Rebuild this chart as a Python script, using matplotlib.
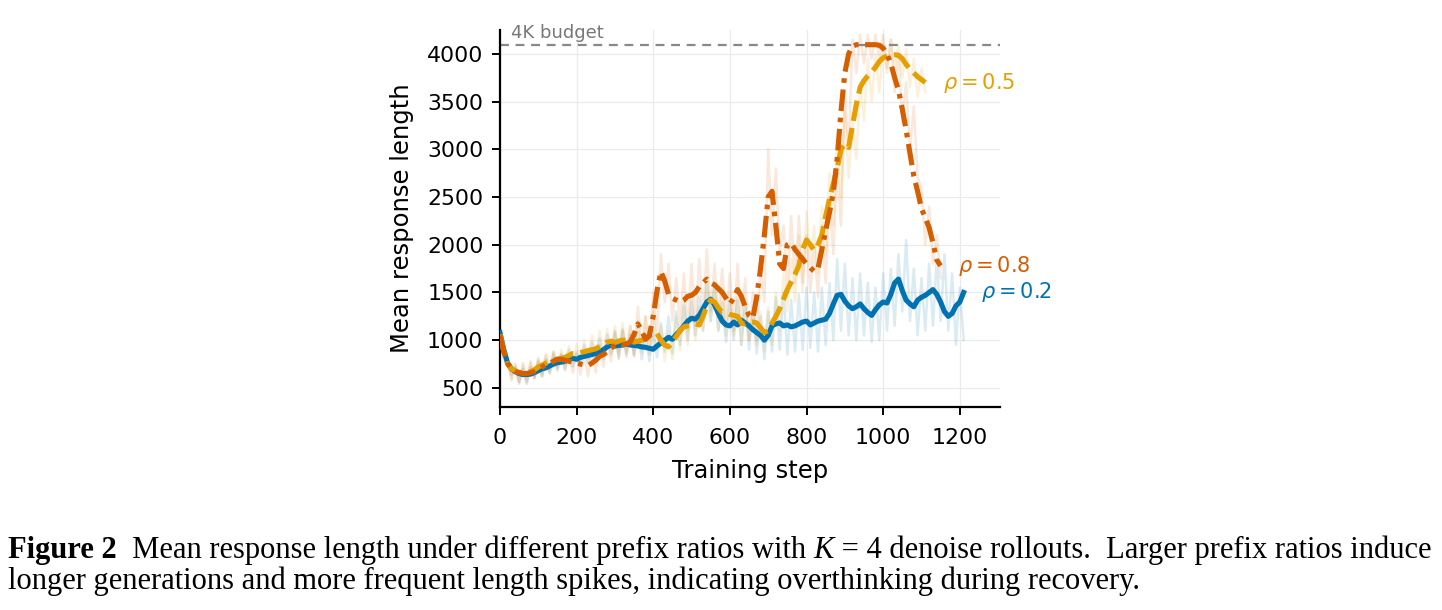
import numpy as np
import matplotlib.pyplot as plt

# smoothed curves, one value every 10 training steps
blue_smooth = [1080, 900, 760, 700, 670, 650, 640, 640, 645, 660,
               680, 700, 710, 730, 750, 765, 770, 780, 800, 810,
               800, 820, 830, 840, 850, 860, 880, 900, 930, 950,
               940, 945, 950, 960, 950, 945, 940, 930, 925, 915,
               905, 940, 970, 1000, 1030, 1010, 1060, 1100, 1150, 1200,
               1230, 1220, 1260, 1330, 1400, 1430, 1370, 1280, 1200, 1160,
               1150, 1190, 1160, 1210, 1180, 1150, 1110, 1080, 1050, 1000,
               1050, 1150, 1170, 1180, 1150, 1160, 1140, 1150, 1170, 1190,
               1200, 1160, 1180, 1200, 1210, 1220, 1280, 1380, 1470, 1480,
               1410, 1360, 1330, 1350, 1380, 1330, 1290, 1260, 1320, 1370,
               1400, 1390, 1480, 1600, 1640, 1520, 1420, 1380, 1350, 1420,
               1450, 1470, 1500, 1530, 1480, 1400, 1300, 1250, 1280, 1360,
               1400, 1500]
yellow_smooth = [1060, 880, 750, 700, 680, 660, 660, 655, 670, 690,
                 720, 740, 760, 780, 790, 800, 810, 820, 840, 860,
                 860, 870, 880, 890, 900, 910, 930, 950, 980, 990,
                 975, 990, 1000, 1000, 990, 980, 990, 1000, 1010, 1040,
                 1080, 1070, 1000, 950, 930, 980, 1040, 1100, 1140, 1150,
                 1160, 1170, 1160, 1250, 1360, 1420, 1400, 1340, 1290, 1290,
                 1270, 1260, 1250, 1180, 1170, 1190, 1190, 1180, 1130, 1080,
                 1100, 1180, 1250, 1330, 1430, 1530, 1610, 1690, 1780, 1950,
                 2050, 2000, 1940, 2000, 2100, 2300, 2480, 2640, 2800, 3000,
                 3060, 3020, 3250, 3470, 3650, 3720, 3770, 3810, 3860, 3920,
                 3960, 3975, 3985, 3990, 3985, 3950, 3890, 3840, 3800, 3760,
                 3730, 3700]
orange_smooth = [1050, 880, 760, 700, 670, 660, 650, 650, 660, 670,
                 690, 720, 740, 760, 780, 800, 800, 790, 780, 770,
                 760, 750, 740, 735, 760, 790, 830, 850, 880, 920,
                 940, 960, 950, 960, 980, 1060, 1170, 1100, 1010, 1050,
                 1250, 1520, 1720, 1620, 1480, 1440, 1420, 1400, 1420, 1460,
                 1470, 1500, 1560, 1600, 1640, 1600, 1580, 1540, 1500, 1440,
                 1380, 1440, 1530, 1460, 1350, 1260, 1230, 1450, 1750, 2100,
                 2500, 2560, 2200, 1800, 1750, 2000, 2020, 1950, 1900, 1850,
                 1800, 1760, 1720, 1750, 1950, 2150, 2340, 2550, 2900, 3400,
                 3800, 4000, 4080, 4096, 4096, 4096, 4096, 4096, 4096, 4090,
                 4060, 4000, 3900, 3750, 3620, 3420, 3200, 2960, 2720, 2560,
                 2380, 2280, 2180, 2020, 1840, 1780]

# raw (unsmoothed) lengths, also every 10 steps
blue_raw = [1100, 820, 800, 640, 720, 560, 700, 540, 720, 600,
            780, 620, 800, 650, 860, 680, 850, 700, 900, 720,
            880, 740, 950, 760, 980, 780, 1020, 800, 1060, 850,
            1080, 820, 1100, 850, 1060, 830, 1080, 800, 1040, 780,
            1100, 820, 1180, 880, 1250, 860, 1300, 950, 1380, 1000,
            1420, 1050, 1460, 1100, 1600, 1200, 1550, 1100, 1400, 980,
            1380, 1000, 1420, 950, 1380, 900, 1300, 860, 1250, 800,
            1300, 880, 1450, 900, 1500, 850, 1420, 880, 1480, 900,
            1550, 920, 1500, 880, 1550, 950, 1600, 1000, 1850, 1100,
            1800, 1050, 1650, 1000, 1700, 1050, 1600, 980, 1550, 1000,
            1700, 1100, 1750, 1150, 1900, 1300, 2050, 1200, 1750, 1050,
            1650, 1100, 1800, 1150, 1850, 1200, 1900, 1100, 1700, 950,
            1550, 1000]
yellow_raw = [1080, 820, 780, 600, 760, 560, 740, 580, 760, 620,
              820, 640, 860, 680, 880, 720, 900, 740, 940, 760,
              960, 780, 1000, 790, 1050, 820, 1100, 860, 1120, 880,
              1150, 860, 1180, 880, 1150, 840, 1200, 860, 1250, 900,
              1300, 900, 1150, 780, 1100, 800, 1250, 900, 1350, 950,
              1400, 1000, 1350, 1100, 1650, 1200, 1600, 1100, 1550, 1050,
              1500, 1050, 1450, 950, 1400, 1000, 1350, 950, 1300, 880,
              1350, 950, 1500, 1100, 1700, 1300, 1850, 1400, 2100, 1500,
              2350, 1800, 2200, 1700, 2400, 1900, 2750, 2200, 3100, 2500,
              3400, 2700, 3300, 2900, 3700, 3300, 3950, 3500, 4000, 3600,
              4100, 3800, 4150, 3850, 4100, 3750, 4050, 3650, 3950, 3550,
              3850, 3600]
orange_raw = [1050, 800, 780, 580, 740, 540, 760, 560, 780, 600,
              800, 620, 840, 660, 880, 700, 860, 680, 850, 660,
              860, 640, 850, 620, 880, 660, 950, 720, 1000, 780,
              1100, 800, 1120, 820, 1150, 850, 1350, 900, 1250, 850,
              1500, 1050, 1900, 1400, 1800, 1200, 1650, 1150, 1700, 1100,
              1800, 1150, 1850, 1250, 1950, 1300, 1800, 1250, 1750, 1200,
              1700, 1100, 1800, 1150, 1650, 1000, 1500, 1000, 1800, 1400,
              3000, 2100, 2800, 1900, 2200, 1500, 2300, 1600, 2300, 1600,
              2100, 1500, 2000, 1450, 2200, 1600, 2500, 1900, 2800, 2200,
              3600, 3000, 4150, 3800, 4200, 3900, 4200, 3950, 4200, 3950,
              4200, 3850, 4150, 3600, 4000, 3300, 3700, 3000, 3450, 2700,
              2600, 2000, 2400, 1800, 2100, 1650]

budget = 4096
step_every = 10

c_blue = '#0072B2'
c_yellow = '#E69F00'
c_orange = '#D55E00'

fig = plt.figure(figsize=(14.42, 6.10), dpi=100)
ax = fig.add_axes([0.3467, 0.3328, 0.3468, 0.618])

series = [
    (blue_raw, blue_smooth, c_blue, '-', None, r'$\rho=0.2$'),
    (yellow_raw, yellow_smooth, c_yellow, '--', (4, 1.4), r'$\rho=0.5$'),
    (orange_raw, orange_smooth, c_orange, '-.', (4.2, 1.3, 0.9, 1.3), r'$\rho=0.8$'),
]

for raw, sm, col, ls, dash, lab in series:
    x = np.arange(len(raw)) * step_every
    ax.plot(x, raw, color=col, lw=1.8, alpha=0.14, zorder=1)
for raw, sm, col, ls, dash, lab in series:
    x = np.arange(len(sm)) * step_every
    line, = ax.plot(x, sm, color=col, lw=3.7, ls=ls, zorder=3)
    if dash is not None:
        line.set_dashes(dash)
    ax.text(x[-1] + 45, sm[-1], lab, color=col, fontsize=15, va='center', ha='left')

ax.axhline(budget, color='#888888', lw=1.6, ls=(0, (4, 3)), zorder=2)
ax.text(0.022, budget + 30, '4K budget', transform=ax.get_yaxis_transform(),
        color='#777777', fontsize=13, va='bottom', ha='left')

ax.set_xlim(0, 1305)
ax.set_ylim(300, 4250)
ax.set_xticks(range(0, 1201, 200))
ax.set_yticks(range(500, 4001, 500))
ax.grid(True, color='#ebebeb', lw=0.9)
ax.set_axisbelow(True)
ax.spines['top'].set_visible(False)
ax.spines['right'].set_visible(False)
for s in ['left', 'bottom']:
    ax.spines[s].set_linewidth(1.6)
ax.tick_params(labelsize=15.8, length=6, width=1.4, pad=6)
ax.tick_params(axis='x', pad=9)
ax.set_xlabel('Training step', fontsize=17.5, labelpad=8)
ax.set_ylabel('Mean response length', fontsize=17.5, labelpad=9)

# caption, pieces laid out one after another
def put_runs(x, y, runs, size):
    renderer = fig.canvas.get_renderer()
    for s, props in runs:
        t = fig.text(x, y, s, fontsize=size, family='Liberation Serif', va='baseline', **props)
        x += t.get_window_extent(renderer).width / fig.bbox.width
    return x

cap_size = 22
put_runs(8 / 1442, 1 - 558 / 610, [
    ('Figure 2', {'weight': 'bold'}),
    ('  Mean response length under different prefix ratios with ', {}),
    ('K', {'style': 'italic'}),
    (' = 4 denoise rollouts.  Larger prefix ratios induce', {}),
], cap_size)
put_runs(8 / 1442, 1 - 589 / 610, [
    ('longer generations and more frequent length spikes, indicating overthinking during recovery.', {}),
], cap_size)

fig.savefig('out.png', dpi=100)
